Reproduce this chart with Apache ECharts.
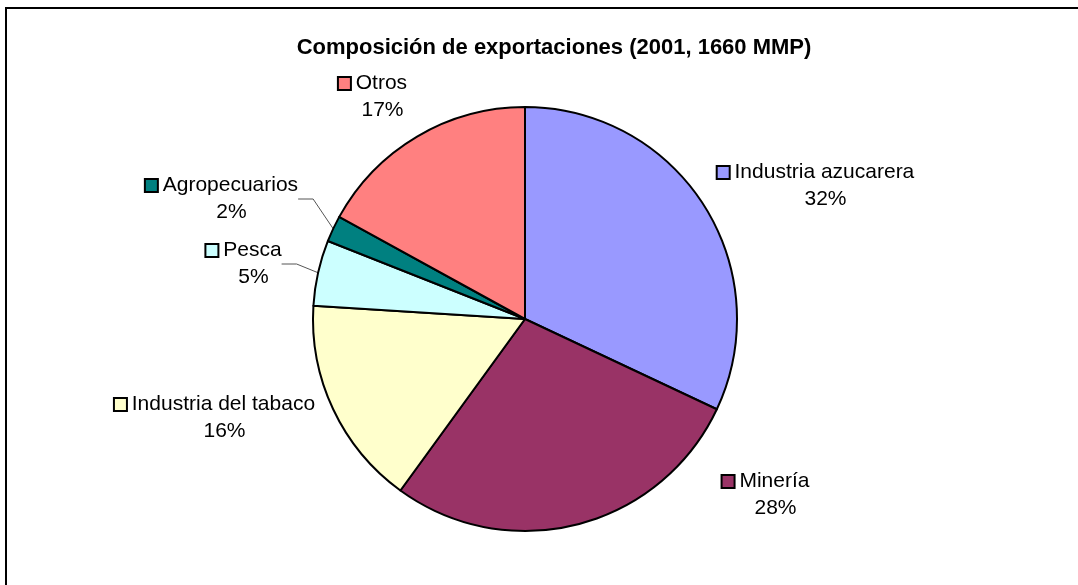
<!DOCTYPE html>
<html>
<head>
<meta charset="utf-8">
<script src="https://cdn.jsdelivr.net/npm/echarts@6/dist/echarts.min.js"></script>
<style>
  html, body { margin: 0; padding: 0; background: #fff; }
  #main { width: 1078px; height: 585px; }
</style>
</head>
<body>
<div id="main"></div>
<script>
// datos del gráfico
const categorias = ['Industria azucarera', 'Minería', 'Industria del tabaco', 'Pesca', 'Agropecuarios', 'Otros'];
const valores = [32, 28, 16, 5, 2, 17];
const colores = ['#9999FF', '#993366', '#FFFFCC', '#CCFFFF', '#008080', '#FF8080'];
const conLinea = [false, false, false, true, true, false];

// posicion de las etiquetas (centro del bloque), como en Excel
const posEtiquetas = [[816, 186], [766, 495], [215, 418], [244, 264], [222, 199], [373, 97]];

const chart = echarts.init(document.getElementById('main'));

const datos = categorias.map((c, i) => ({
  name: c,
  value: valores[i],
  itemStyle: { color: colores[i] },
  label: {
    rich: {
      sq: { width: 11, height: 11, backgroundColor: colores[i], borderColor: '#000', borderWidth: 2, align: 'center' }
    }
  },
  labelLine: { show: conLinea[i] }
}));

chart.setOption({
  animation: false,
  title: {
    text: 'Composición de exportaciones (2001, 1660 MMP)',
    left: 549,
    textAlign: 'center',
    top: 32,
    textStyle: { fontFamily: 'Liberation Sans', fontSize: 22, fontWeight: 'bold', color: '#000' }
  },
  graphic: [{
    type: 'rect',
    shape: { x: 6, y: 8, width: 1200, height: 700 },
    style: { fill: 'none', stroke: '#000', lineWidth: 2 }
  }],
  series: [{
    type: 'pie',
    center: [525, 319],
    radius: 212,
    startAngle: 90,
    clockwise: true,
    data: datos,
    itemStyle: { borderColor: '#000', borderWidth: 2 },
    label: {
      show: true,
      position: 'outside',
      alignTo: 'none',
      formatter: p => '{sq|}{n| ' + p.name + '}\n{p|' + Math.round(p.percent) + '%}',
      fontFamily: 'Liberation Sans',
      fontSize: 21,
      color: '#000',
      lineHeight: 27,
      rich: {
        n: { fontFamily: 'Liberation Sans', fontSize: 21, color: '#000', lineHeight: 27, align: 'center' },
        p: { fontFamily: 'Liberation Sans', fontSize: 21, color: '#000', lineHeight: 27, align: 'center', padding: [0, 0, 0, 19] }
      }
    },
    labelLine: {
      length: 15,
      length2: 15,
      lineStyle: { color: '#555', width: 1 }
    },
    labelLayout: p => ({
      x: posEtiquetas[p.dataIndex][0],
      y: posEtiquetas[p.dataIndex][1],
      align: 'center',
      verticalAlign: 'middle'
    })
  }]
});
</script>
</body>
</html>
